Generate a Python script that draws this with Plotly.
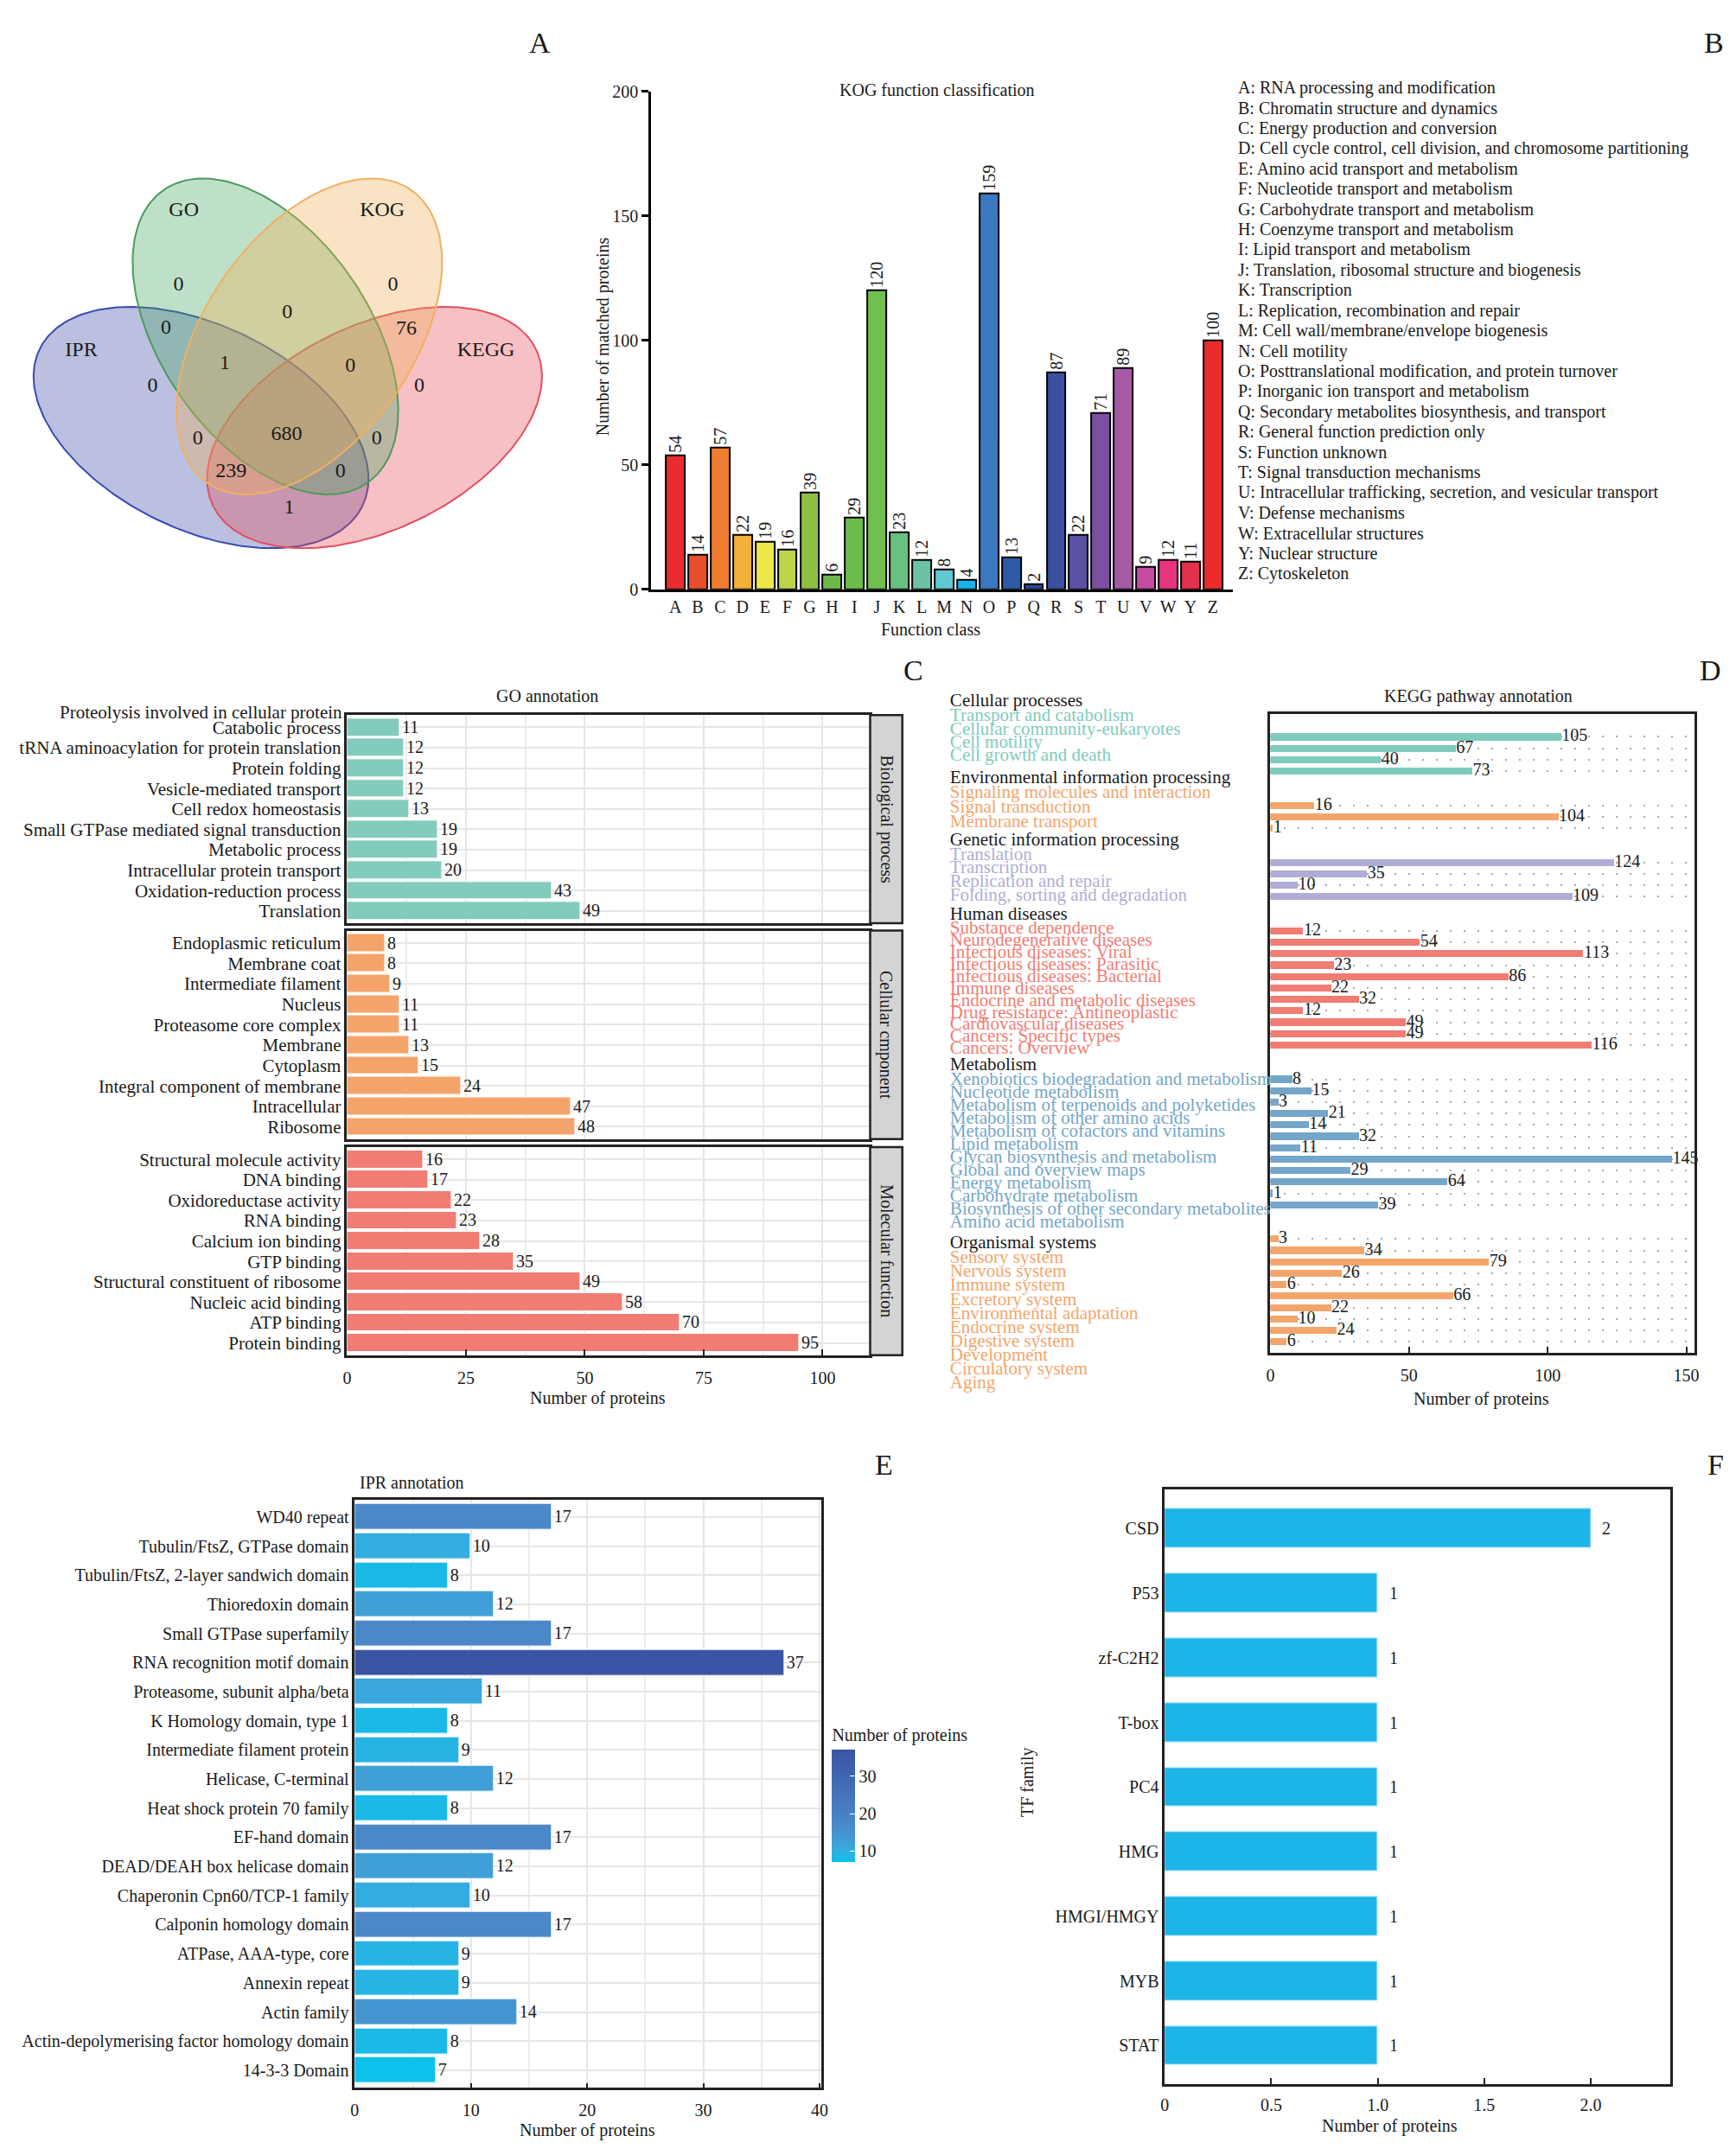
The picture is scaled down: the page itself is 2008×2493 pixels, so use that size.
import numpy as np
import plotly.graph_objects as go

W, H = 2008, 2493
SERIF = "Liberation Serif"
INK = "#1a1a1a"

# ------------------------------------------------------------------ data
venn_sets = ["GO", "KOG", "IPR", "KEGG"]
venn_regions = ["GO", "KOG", "GO&KOG", "GO&IPR", "KOG&KEGG", "GO&KOG&IPR",
                "GO&KOG&KEGG", "IPR", "KEGG", "GO&KOG&IPR&KEGG", "KOG&IPR",
                "GO&KEGG", "KOG&IPR&KEGG", "GO&IPR&KEGG", "IPR&KEGG"]
venn_counts = [0, 0, 0, 0, 76, 1, 0, 0, 0, 680, 0, 0, 239, 0, 1]

kog_classes = list("ABCDEFGHIJKLMNOPQRSTUVWYZ")
kog_counts = [54, 14, 57, 22, 19, 16, 39, 6, 29, 120, 23, 12, 8, 4, 159,
              13, 2, 87, 22, 71, 89, 9, 12, 11, 100]
kog_descriptions = [
    "RNA processing and modification",
    "Chromatin structure and dynamics",
    "Energy production and conversion",
    "Cell cycle control, cell division, and chromosome partitioning",
    "Amino acid transport and metabolism",
    "Nucleotide transport and metabolism",
    "Carbohydrate transport and metabolism",
    "Coenzyme transport and metabolism",
    "Lipid transport and metabolism",
    "Translation, ribosomal structure and biogenesis",
    "Transcription",
    "Replication, recombination and repair",
    "Cell wall/membrane/envelope biogenesis",
    "Cell motility",
    "Posttranslational modification, and protein turnover",
    "Inorganic ion transport and metabolism",
    "Secondary metabolites biosynthesis, and transport",
    "General function prediction only",
    "Function unknown",
    "Signal transduction mechanisms",
    "Intracellular trafficking, secretion, and vesicular transport",
    "Defense mechanisms",
    "Extracellular structures",
    "Nuclear structure",
    "Cytoskeleton",
]

go_bp_terms = ["Catabolic process",
               "tRNA aminoacylation for protein translation", "Protein folding",
               "Vesicle-mediated transport", "Cell redox homeostasis",
               "Small GTPase mediated signal transduction", "Metabolic process",
               "Intracellular protein transport", "Oxidation-reduction process",
               "Translation"]
go_bp_first_line = "Proteolysis involved in cellular protein"
go_bp_counts = [11, 12, 12, 12, 13, 19, 19, 20, 43, 49]
go_cc_terms = ["Endoplasmic reticulum", "Membrane coat", "Intermediate filament",
               "Nucleus", "Proteasome core complex", "Membrane", "Cytoplasm",
               "Integral component of membrane", "Intracellular", "Ribosome"]
go_cc_counts = [8, 8, 9, 11, 11, 13, 15, 24, 47, 48]
go_mf_terms = ["Structural molecule activity", "DNA binding", "Oxidoreductase activity",
               "RNA binding", "Calcium ion binding", "GTP binding",
               "Structural constituent of ribosome", "Nucleic acid binding",
               "ATP binding", "Protein binding"]
go_mf_counts = [16, 17, 22, 23, 28, 35, 49, 58, 70, 95]
go_categories = ["Biological process", "Cellular cmponent", "Molecular function"]

kegg_groups = ["Cellular processes", "Environmental information processing",
               "Genetic information processing", "Human diseases", "Metabolism",
               "Organismal systems"]
kegg_cp_terms = ["Transport and catabolism", "Cellular community-eukaryotes",
                 "Cell motility", "Cell growth and death"]
kegg_cp_counts = [105, 67, 40, 73]
kegg_eip_terms = ["Signaling molecules and interaction", "Signal transduction",
                  "Membrane transport"]
kegg_eip_counts = [16, 104, 1]
kegg_gip_terms = ["Translation", "Transcription", "Replication and repair",
                  "Folding, sorting and degradation"]
kegg_gip_counts = [124, 35, 10, 109]
kegg_hd_terms = ["Substance dependence", "Neurodegenerative diseases",
                 "Infectious diseases: Viral", "Infectious diseases: Parasitic",
                 "Infectious diseases: Bacterial", "Immune diseases",
                 "Endocrine and metabolic diseases", "Drug resistance: Antineoplastic",
                 "Cardiovascular diseases", "Cancers: Specific types", "Cancers: Overview"]
kegg_hd_counts = [12, 54, 113, 23, 86, 22, 32, 12, 49, 49, 116]
kegg_met_terms = ["Xenobiotics biodegradation and metabolism", "Nucleotide metabolism",
                  "Metabolism of terpenoids and polyketides", "Metabolism of other amino acids",
                  "Metabolism of cofactors and vitamins", "Lipid metabolism",
                  "Glycan biosynthesis and metabolism", "Global and overview maps",
                  "Energy metabolism", "Carbohydrate metabolism",
                  "Biosynthesis of other secondary metabolites", "Amino acid metabolism"]
kegg_met_counts = [8, 15, 3, 21, 14, 32, 11, 145, 29, 64, 1, 39]
kegg_os_terms = ["Sensory system", "Nervous system", "Immune system", "Excretory system",
                 "Environmental adaptation", "Endocrine system", "Digestive system",
                 "Development", "Circulatory system", "Aging"]
kegg_os_counts = [3, 34, 79, 26, 6, 66, 22, 10, 24, 6]

ipr_domains = ["WD40 repeat", "Tubulin/FtsZ, GTPase domain",
               "Tubulin/FtsZ, 2-layer sandwich domain", "Thioredoxin domain",
               "Small GTPase superfamily", "RNA recognition motif domain",
               "Proteasome, subunit alpha/beta", "K Homology domain, type 1",
               "Intermediate filament protein", "Helicase, C-terminal",
               "Heat shock protein 70 family", "EF-hand domain",
               "DEAD/DEAH box helicase domain", "Chaperonin Cpn60/TCP-1 family",
               "Calponin homology domain", "ATPase, AAA-type, core", "Annexin repeat",
               "Actin family", "Actin-depolymerising factor homology domain",
               "14-3-3 Domain"]
ipr_counts = [17, 10, 8, 12, 17, 37, 11, 8, 9, 12, 8, 17, 12, 10, 17, 9, 9, 14, 8, 7]

tf_families = ["CSD", "P53", "zf-C2H2", "T-box", "PC4", "HMG", "HMGI/HMGY", "MYB", "STAT"]
tf_counts = [2, 1, 1, 1, 1, 1, 1, 1, 1]

# ------------------------------------------------------------------ styles
kog_colors = ["#ec2b2e", "#e84e2a", "#f07c31", "#f4b03c", "#ece84a", "#bcd54b",
              "#8dc043", "#6cb947", "#6cbd4a", "#72bf51", "#6ac07e", "#6ac3a7",
              "#60c8d2", "#1ab1ea", "#3a78c0", "#2d5aa8", "#29489a", "#3a50a1",
              "#5b52a2", "#7c4fa0", "#a65aa6", "#c44ba0", "#e8347f", "#e2304f",
              "#ec2b2e"]
go_colors = ["#83cbbd", "#f4a46a", "#f17c74"]
kegg_colors = ["#7fcbbd", "#f4a56b", "#b0aed6", "#f17c74", "#74a6c9", "#f4a56b"]
ipr_scale = [[0.0, "#0cc1ec"], [0.1, "#33ade1"], [0.1667, "#3fa0d8"],
             [0.3333, "#4b88c8"], [1.0, "#3a54a4"]]
tf_color = "#1db4e8"


def dom_x(l, r):
    return [l / W, r / W]


def dom_y(t, b):
    return [1 - b / H, 1 - t / H]


annotations = []
shapes = []


def note(text, x, y, size=20, color=INK, **kw):
    d = dict(text=text, x=x / W, y=1 - y / H, xref="paper", yref="paper",
             showarrow=False, font=dict(family=SERIF, size=size, color=color),
             xanchor=kw.pop("xanchor", "center"), yanchor=kw.pop("yanchor", "middle"))
    d.update(kw)
    annotations.append(d)


def tickfont(size=20):
    return dict(family=SERIF, size=size, color=INK)


fig = go.Figure()
layout = {}

# ================================================================== A: Venn
layout["xaxis"] = dict(domain=dom_x(0, 660), range=[0, 660], visible=False, anchor="y")
layout["yaxis"] = dict(domain=dom_y(0, 680), range=[680, 0], visible=False, anchor="x")
venn_shape = {  # centre x, centre y, semi-axes, angle (deg) in panel pixels
    "GO": (304, 381.6, 208, 121, 55.3),
    "KOG": (355, 381.6, 208, 121, 124.7),
    "IPR": (229, 487.9, 209, 119, 26.0),
    "KEGG": (431, 487.9, 209, 119, 154.0),
}
venn_fill = {"GO": "rgba(72,166,98,0.35)", "KOG": "rgba(241,175,86,0.35)",
             "IPR": "rgba(61,72,166,0.35)", "KEGG": "rgba(229,75,86,0.35)"}
venn_edge = {"GO": "#4c9a5c", "KOG": "#f0b060", "IPR": "#3a4ab2", "KEGG": "#e0505e"}
venn_name_xy = {"GO": (209, 235.5), "KOG": (440, 235.5), "IPR": (89.6, 399),
                "KEGG": (560.6, 399)}
venn_count_xy = [(202.9, 322.2), (452.4, 322.2), (329.5, 354.3), (188.1, 372),
                 (468, 373), (256.7, 414), (402.8, 417), (172.6, 440), (483.2, 440),
                 (328.7, 496.5), (225.2, 501.7), (433.5, 501.7), (263.9, 540),
                 (391.4, 540), (331.6, 582.4)]
tt = np.linspace(0, 2 * np.pi, 240)
for name in ["IPR", "KEGG", "GO", "KOG"]:
    cx, cy, a, b, ang = venn_shape[name]
    th = np.radians(ang)
    xs = cx + a * np.cos(tt) * np.cos(th) - b * np.sin(tt) * np.sin(th)
    ys = cy + a * np.cos(tt) * np.sin(th) + b * np.sin(tt) * np.cos(th)
    fig.add_trace(go.Scatter(x=xs, y=ys, mode="lines", fill="toself",
                             fillcolor=venn_fill[name],
                             line=dict(color=venn_edge[name], width=2),
                             xaxis="x", yaxis="y", hoverinfo="skip", showlegend=False))
fig.add_trace(go.Scatter(x=[venn_name_xy[n][0] for n in venn_sets],
                         y=[venn_name_xy[n][1] for n in venn_sets],
                         text=venn_sets, mode="text", textfont=tickfont(24),
                         xaxis="x", yaxis="y", showlegend=False, hoverinfo="skip"))
fig.add_trace(go.Scatter(x=[p[0] for p in venn_count_xy], y=[p[1] for p in venn_count_xy],
                         text=[str(v) for v in venn_counts], mode="text",
                         textfont=tickfont(24),
                         xaxis="x", yaxis="y", showlegend=False, hoverinfo="skip"))
note("A", 624, 39, size=34)

# ================================================================== B: KOG
layout["xaxis2"] = dict(domain=dom_x(753, 1430), anchor="y2", type="category",
                        categoryorder="array", categoryarray=kog_classes,
                        tickmode="array", tickvals=kog_classes,
                        range=[-1.08, 24.88], showline=True, linewidth=3,
                        linecolor="black", ticks="", showgrid=False,
                        tickfont=tickfont(20))
layout["yaxis2"] = dict(domain=dom_y(95.5, 676.7), anchor="x2", range=[0, 200],
                        tickvals=[0, 50, 100, 150, 200], showline=True, linewidth=3,
                        linecolor="black", ticks="outside", ticklen=8, tickwidth=2.5,
                        tickcolor="black", showgrid=False, zeroline=False,
                        tickfont=tickfont(20))
fig.add_trace(go.Bar(x=kog_classes, y=kog_counts, xaxis="x2", yaxis="y2", width=0.84,
                     marker=dict(color=kog_colors, line=dict(color="black", width=2)),
                     text=[str(v) for v in kog_counts], textposition="outside",
                     textangle=-90, constraintext="none", cliponaxis=False,
                     textfont=tickfont(20), showlegend=False))
note("KOG function classification", 1086, 94, size=20)
note("Function class", 1078, 723.5, size=20)
note("Number of matched proteins", 697, 381, size=20, textangle=-90)
for i, (c, d) in enumerate(zip(kog_classes, kog_descriptions)):
    note(f"{c}: {d}", 1434, 91.5 + i * 23.62, size=20, xanchor="left")
note("B", 1990, 39, size=34)

# ================================================================== C: GO
go_x0, go_x1, strip_x1 = 399, 1008, 1045.5
go_panels = [(823.6, 1066.4), (1075, 1318.3), (1327.7, 1570.7)]
go_terms = [go_bp_terms, go_cc_terms, go_mf_terms]
go_counts = [go_bp_counts, go_cc_counts, go_mf_counts]
for k in range(3):
    xa, ya = f"xaxis{3 + k}", f"yaxis{3 + k}"
    xr, yr = f"x{3 + k}", f"y{3 + k}"
    top, bot = go_panels[k]
    last = k == 2
    layout[xa] = dict(domain=dom_x(go_x0, go_x1), anchor=yr, range=[0, 110],
                      tickvals=[0, 25, 50, 75, 100], showticklabels=last,
                      ticks="inside" if last else "", ticklen=7, tickwidth=2,
                      tickcolor="#222", showline=True, mirror=True, linewidth=2.5,
                      linecolor="#222", showgrid=True, gridcolor="#e6e6e6", gridwidth=2,
                      minor=dict(dtick=12.5, showgrid=True, gridcolor="#ececec",
                                 gridwidth=1.5),
                      ticklabelstandoff=6, zeroline=False, tickfont=tickfont(20))
    layout[ya] = dict(domain=dom_y(top, bot), anchor=xr, type="category",
                      categoryorder="array", categoryarray=go_terms[k],
                      tickmode="array", tickvals=go_terms[k],
                      range=[9.6, -0.6], showgrid=True, gridcolor="#e6e6e6",
                      gridwidth=2, ticks="", showline=True, mirror=True, linewidth=2.5,
                      linecolor="#222", tickfont=tickfont(21))
    fig.add_trace(go.Bar(x=go_counts[k], y=go_terms[k], orientation="h", xaxis=xr,
                         yaxis=yr, width=0.88,
                         marker=dict(color=go_colors[k], line=dict(color="white", width=1)),
                         text=[str(v) for v in go_counts[k]], textposition="outside",
                         constraintext="none", cliponaxis=False,
                         textfont=tickfont(20), showlegend=False))
    shapes.append(dict(type="rect", xref="paper", yref="paper",
                       x0=go_x1 / W, x1=strip_x1 / W, y0=1 - bot / H, y1=1 - top / H,
                       fillcolor="#d4d4d4", line=dict(color="#222", width=2.5)))
    note(go_categories[k], (go_x1 + strip_x1) / 2, (top + bot) / 2, size=20,
         textangle=90)
annotations.append(dict(text=go_bp_first_line, x=0, y=go_bp_terms[0], xref="x3",
                        yref="y3", xanchor="right", yanchor="middle", xshift=-3,
                        yshift=17, showarrow=False, font=tickfont(21)))
note("GO annotation", 632, 801, size=20)
note("Number of proteins", 691, 1621, size=20)
note("C", 1058, 771, size=34)

# ================================================================== D: KEGG
kegg_terms = [kegg_cp_terms, kegg_eip_terms, kegg_gip_terms, kegg_hd_terms,
              kegg_met_terms, kegg_os_terms]
kegg_counts = [kegg_cp_counts, kegg_eip_counts, kegg_gip_counts, kegg_hd_counts,
               kegg_met_counts, kegg_os_counts]
# bar rows: groups separated by two empty rows
rows, vals, cols = [], [], []
r = 0
for g, cnts in enumerate(kegg_counts):
    for v in cnts:
        rows.append(r)
        vals.append(v)
        cols.append(kegg_colors[g])
        r += 1
    r += 2
layout["xaxis6"] = dict(domain=dom_x(1474, 1967.6), anchor="y6", range=[0, 152.9],
                        tickvals=[0, 50, 100, 150], ticks="inside", ticklen=8,
                        tickwidth=2, tickcolor="#222", showline=True, mirror=True,
                        linewidth=2.5, linecolor="#222", showgrid=False, zeroline=False,
                        ticklabelstandoff=6, tickfont=tickfont(20))
layout["yaxis6"] = dict(domain=dom_y(822.3, 1568.3), anchor="x6",
                        range=[rows[-1] + 1, -2],
                        tickvals=rows, showticklabels=False, ticks="", showgrid=True,
                        gridcolor="#a8a8a8", gridwidth=1.5, griddash="2px,14px",
                        zeroline=False, showline=True, mirror=True, linewidth=2.5,
                        linecolor="#222")
fig.add_trace(go.Bar(x=vals, y=rows, orientation="h", xaxis="x6", yaxis="y6",
                     width=0.62, marker=dict(color=cols, line=dict(width=0)),
                     showlegend=False))
fig.add_trace(go.Scatter(x=vals, y=rows, mode="text", text=[str(v) for v in vals],
                         textposition="middle right", xaxis="x6", yaxis="y6",
                         cliponaxis=False, textfont=tickfont(20),
                         showlegend=False, hoverinfo="skip"))
# left-hand category list (group header, then coloured pathway names)
kegg_label_header_px = [808.3, 897.7, 970.0, 1056.7, 1232.3, 1440.7]
kegg_label_step_px = [15.5, 17.0, 16.1, 14.0, 15.15, 16.3]
lab_y, lab_t, lab_c = [], [], []
for g, terms in enumerate(kegg_terms):
    h0, st = kegg_label_header_px[g], kegg_label_step_px[g]
    lab_y.append(h0)
    lab_t.append(kegg_groups[g])
    lab_c.append(INK)
    for i, t in enumerate(terms):
        lab_y.append(h0 + 17 + i * st)
        lab_t.append(t)
        lab_c.append(kegg_colors[g])
layout["xaxis7"] = dict(domain=dom_x(1101, 1474), anchor="y7", range=[0, 1], visible=False)
layout["yaxis7"] = dict(domain=dom_y(780, 1630), anchor="x7", range=[1630, 780],
                        visible=False)
fig.add_trace(go.Scatter(x=[0] * len(lab_y), y=lab_y, mode="text", text=lab_t,
                         textposition="middle right", xaxis="x7", yaxis="y7",
                         cliponaxis=False,
                         textfont=dict(family=SERIF, size=21, color=lab_c),
                         showlegend=False, hoverinfo="skip"))
note("KEGG pathway annotation", 1716, 802, size=20)
note("Number of proteins", 1720, 1622, size=20)
note("D", 1986, 771, size=34)

# ================================================================== E: IPR
layout["xaxis8"] = dict(domain=dom_x(408, 951.3), anchor="y8", range=[0, 40.16],
                        tickvals=[0, 10, 20, 30, 40], ticks="inside", ticklen=5,
                        tickwidth=2, tickcolor="#222", showline=True, mirror=True,
                        linewidth=2.5, linecolor="#222", showgrid=True,
                        gridcolor="#e6e6e6", gridwidth=2,
                        minor=dict(dtick=5, showgrid=True, gridcolor="#ececec",
                                   gridwidth=1.5),
                        ticklabelstandoff=6, zeroline=False, tickfont=tickfont(20))
layout["yaxis8"] = dict(domain=dom_y(1739, 2425.5), anchor="x8", type="category",
                        categoryorder="array", categoryarray=ipr_domains,
                        tickmode="array", tickvals=ipr_domains,
                        range=[19.6, -0.6], showgrid=True, gridcolor="#e6e6e6",
                        gridwidth=2, ticks="", showline=True, mirror=True,
                        linewidth=2.5, linecolor="#222", tickfont=tickfont(20))
fig.add_trace(go.Bar(x=ipr_counts, y=ipr_domains, orientation="h", xaxis="x8",
                     yaxis="y8", width=0.89,
                     marker=dict(color=ipr_counts, colorscale=ipr_scale, cmin=7, cmax=37,
                                 line=dict(color="white", width=1), showscale=True,
                                 colorbar=dict(x=953.6 / W, xanchor="left",
                                               y=1 - 1993 / H, yanchor="top",
                                               len=178, lenmode="pixels", thickness=27,
                                               thicknessmode="pixels",
                                               tickvals=[10, 20, 30], ticks="inside",
                                               ticklen=6, tickcolor="white",
                                               outlinewidth=0, tickfont=tickfont(20),
                                               title=dict(text="Number of proteins",
                                                          side="top",
                                                          font=tickfont(20)))),
                     text=[str(v) for v in ipr_counts], textposition="outside",
                     constraintext="none", cliponaxis=False,
                     textfont=tickfont(20), showlegend=False))
note("IPR annotation", 412, 1719.5, size=20, xanchor="left")
note("Number of proteins", 678.5, 2475, size=20)
note("E", 1024, 1698, size=34)

# ================================================================== F: TF
layout["xaxis9"] = dict(domain=dom_x(1351, 1940), anchor="y9", range=[0, 2.375],
                        tickvals=[0, 0.5, 1.0, 1.5, 2.0],
                        ticktext=["0", "0.5", "1.0", "1.5", "2.0"], ticks="inside",
                        ticklen=8, tickwidth=2, tickcolor="#222", showline=True,
                        mirror=True, linewidth=2.5, linecolor="#222", showgrid=False,
                        ticklabelstandoff=4, zeroline=False, tickfont=tickfont(20))
layout["yaxis9"] = dict(domain=dom_y(1727.7, 2421.7), anchor="x9", type="category",
                        categoryorder="array", categoryarray=tf_families,
                        tickmode="array", tickvals=tf_families,
                        range=[8.6, -0.6], showgrid=False, ticks="", showline=True,
                        mirror=True, linewidth=2.5, linecolor="#222",
                        tickfont=tickfont(20))
fig.add_trace(go.Bar(x=tf_counts, y=tf_families, orientation="h", xaxis="x9", yaxis="y9",
                     width=0.6, marker=dict(color=tf_color, line=dict(color="#8fdcf6",
                                                                     width=1)),
                     showlegend=False))
for fam, v in zip(tf_families, tf_counts):
    annotations.append(dict(text=str(v), x=v, y=fam, xref="x9", yref="y9",
                            xanchor="left", xshift=11, showarrow=False,
                            font=tickfont(20)))
note("TF family", 1191, 2069, size=20, textangle=-90)
note("Number of proteins", 1613, 2470, size=20)
note("F", 1992, 1698, size=34)

fig.update_layout(width=W, height=H, margin=dict(l=0, r=0, t=0, b=0),
                  paper_bgcolor="white", plot_bgcolor="white", showlegend=False,
                  bargap=0, font=dict(family=SERIF, size=20, color=INK),
                  annotations=annotations, shapes=shapes, **layout)

fig.write_html("out.html", config={"displayModeBar": False},
               post_script="document.body.style.margin='0';"
                           "document.body.style.overflow='hidden';")
